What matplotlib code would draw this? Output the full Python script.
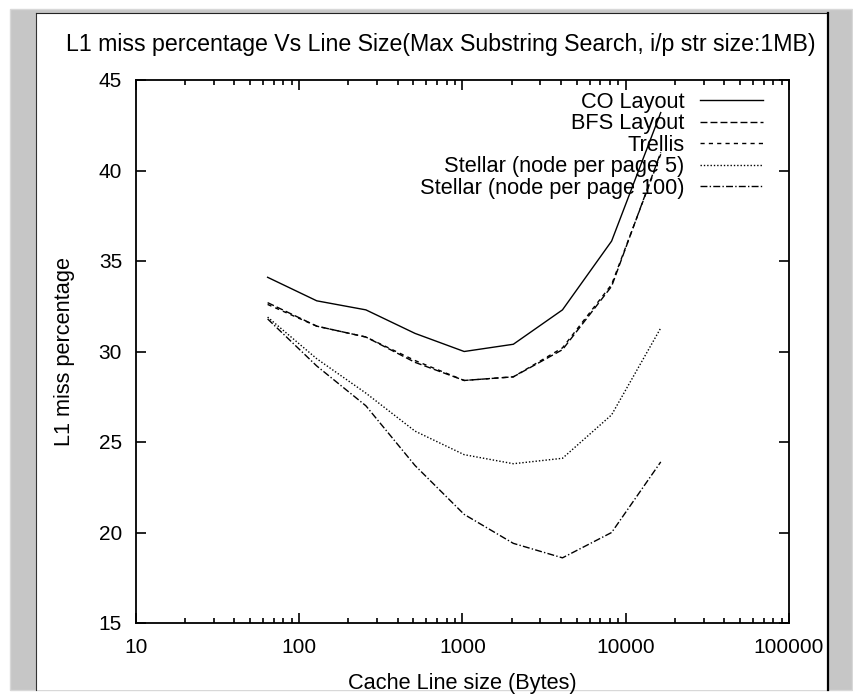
import matplotlib
matplotlib.use("Agg")
import matplotlib.pyplot as plt
from matplotlib.patches import Rectangle
from matplotlib.ticker import LogLocator, NullFormatter, FixedLocator

plt.rcParams['font.family'] = ['Liberation Sans', 'DejaVu Sans']

# data
line_size = [64, 128, 256, 512, 1024, 2048, 4096, 8192, 16384]
co_layout = [34.1, 32.8, 32.3, 31.0, 30.0, 30.4, 32.3, 36.1, 43.2]
bfs_layout = [32.7, 31.4, 30.8, 29.4, 28.4, 28.6, 30.1, 33.6, 41.0]
trellis = [32.6, 31.4, 30.8, 29.5, 28.4, 28.6, 30.2, 33.7, 40.9]
stellar_5 = [31.9, 29.6, 27.7, 25.6, 24.3, 23.8, 24.1, 26.5, 31.3]
stellar_100 = [31.8, 29.2, 27.0, 23.7, 21.0, 19.4, 18.6, 20.0, 23.9]

labels = ['CO Layout', 'BFS Layout', 'Trellis',
          'Stellar (node per page 5)', 'Stellar (node per page 100)']

W, H = 854, 694
fig = plt.figure(figsize=(W / 100, H / 100), dpi=100)
fig.patch.set_facecolor('white')


def px(x0, y0, x1, y1):
    # pixel box (top-left origin) -> figure fraction rect
    return (x0 / W, 1 - y1 / H), (x1 - x0) / W, (y1 - y0) / H


# screenshot frame, kept under the axes
xy, w, h = px(10, 9, 852, 690)
fig.patches.append(Rectangle(xy, w, h, transform=fig.transFigure, zorder=-10,
                             facecolor='#c6c6c6', edgecolor='#d8d8d8', lw=1))
xy, w, h = px(36, 13, 828, 690)
fig.patches.append(Rectangle(xy, w, h, transform=fig.transFigure, zorder=-9,
                             facecolor='white', edgecolor='none'))
fig.lines.append(plt.Line2D([36 / W, 36 / W], [1 - 13 / H, 1 - 690 / H], zorder=-8,
                            transform=fig.transFigure, color='#333333', lw=0.8))
fig.lines.append(plt.Line2D([36 / W, 828 / W], [1 - 13 / H, 1 - 13 / H], zorder=-8,
                            transform=fig.transFigure, color='#222222', lw=0.8))
fig.lines.append(plt.Line2D([828 / W, 828 / W], [1 - 13 / H, 1 - 690 / H], zorder=-8,
                            transform=fig.transFigure, color='black', lw=1.6))

ax = fig.add_axes([136 / W, 1 - 623 / H, (789 - 136) / W, (623 - 80) / H])
ax.set_facecolor('none')

ax.plot(line_size, co_layout, color='black', lw=1.0, label=labels[0])
ax.plot(line_size, bfs_layout, color='black', lw=1.0, dashes=(5, 2.2), label=labels[1])
ax.plot(line_size, trellis, color='black', lw=1.0, dashes=(3, 3), label=labels[2])
ax.plot(line_size, stellar_5, color='black', lw=1.0, dashes=(1, 1.4), label=labels[3])
ax.plot(line_size, stellar_100, color='black', lw=1.0, dashes=(5, 1.6, 1, 1.6), label=labels[4])

ax.set_xscale('log')
ax.set_xlim(10, 100000)
ax.set_ylim(15, 45)
ax.xaxis.set_major_locator(FixedLocator([10, 100, 1000, 10000, 100000]))
ax.set_xticklabels(['10', '100', '1000', '10000', '100000'])
ax.xaxis.set_minor_locator(LogLocator(base=10, subs=range(2, 10)))
ax.xaxis.set_minor_formatter(NullFormatter())
ax.set_yticks([15, 20, 25, 30, 35, 40, 45])

ax.tick_params(which='both', direction='in', top=True, right=True, width=1.2,
               labelsize=15, colors='black')
ax.tick_params(which='major', length=7)
ax.tick_params(which='minor', length=3.8)
ax.tick_params(axis='x', pad=11)
ax.tick_params(axis='y', pad=10)
for s in ax.spines.values():
    s.set_linewidth(1.3)

ax.set_xlabel('Cache Line size (Bytes)', fontsize=15.7, labelpad=11)
ax.set_ylabel('L1 miss percentage', fontsize=15.7, labelpad=17)
fig.text(441 / W, 1 - 45 / H,
         'L1 miss percentage Vs Line Size(Max Substring Search, i/p str size:1MB)',
         ha='center', va='center', fontsize=16.7)

leg = ax.legend(loc='upper right', bbox_to_anchor=(763 / W, 1 - 92 / H),
                bbox_transform=fig.transFigure, frameon=False, markerfirst=False,
                fontsize=15.7, handlelength=2.9, handletextpad=0.7,
                labelspacing=0.02, borderpad=0, borderaxespad=0)
for t in leg.get_texts():
    t.set_ha('right')

fig.savefig('out.png', dpi=100)
